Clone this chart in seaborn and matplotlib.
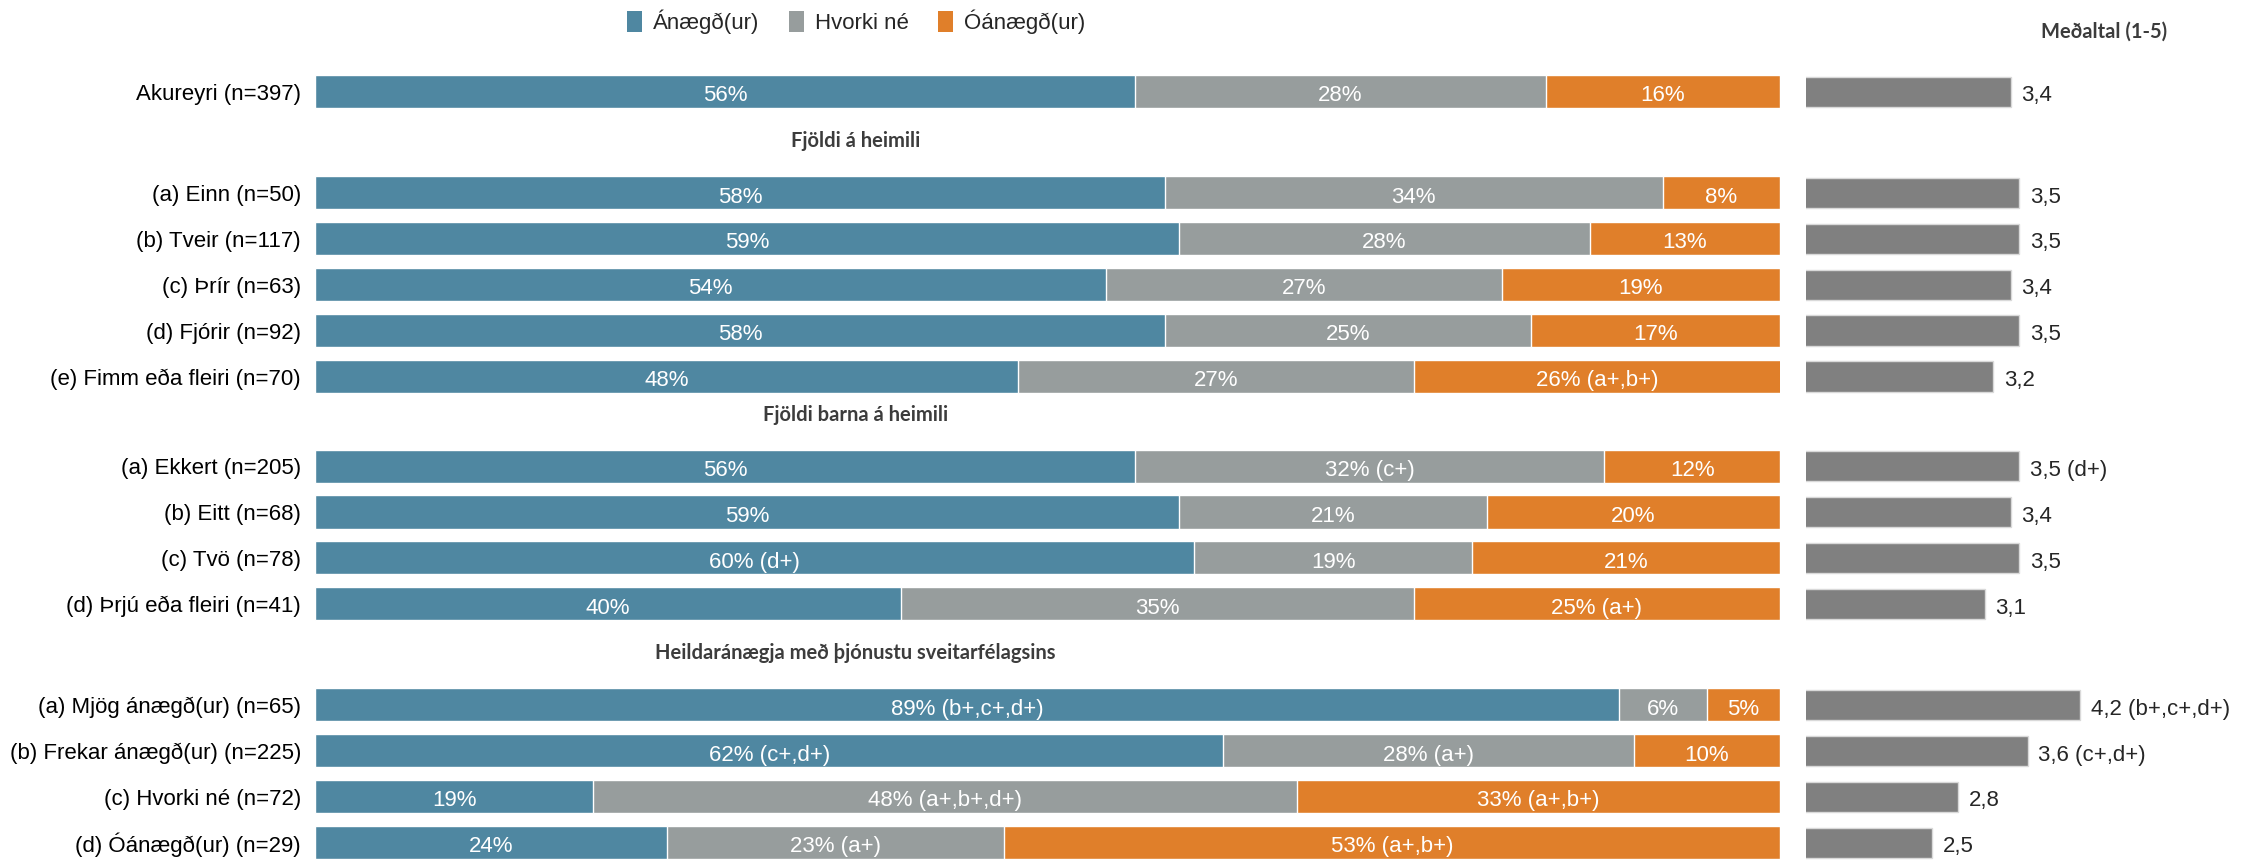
import numpy as np
import pandas as pd
import seaborn as sns
import matplotlib.pyplot as plt
from matplotlib.patches import Patch


labels = ['Akureyri (n=397)',
          '(a) Einn (n=50)', '(b) Tveir (n=117)', '(c) Þrír (n=63)', '(d) Fjórir (n=92)',
          '(e) Fimm eða fleiri (n=70)',
          '(a) Ekkert (n=205)', '(b) Eitt (n=68)', '(c) Tvö (n=78)', '(d) Þrjú eða fleiri (n=41)',
          '(a) Mjög ánægð(ur) (n=65)', '(b) Frekar ánægð(ur) (n=225)', '(c) Hvorki né (n=72)',
          '(d) Óánægð(ur) (n=29)']

anaegd = [56, 58, 59, 54, 58, 48, 56, 59, 60, 40, 89, 62, 19, 24]
hvorki = [28, 34, 28, 27, 25, 27, 32, 21, 19, 35, 6, 28, 48, 23]
oanaegd = [16, 8, 13, 19, 17, 26, 12, 20, 21, 25, 5, 10, 33, 53]

anaegd_notes = ['', '', '', '', '', '', '', '', ' (d+)', '', ' (b+,c+,d+)', ' (c+,d+)', '', '']
hvorki_notes = ['', '', '', '', '', '', ' (c+)', '', '', '', '', ' (a+)', ' (a+,b+,d+)', ' (a+)']
oanaegd_notes = ['', '', '', '', '', ' (a+,b+)', '', '', '', ' (a+)', '', '', ' (a+,b+)', ' (a+,b+)']

means = [3.4, 3.5, 3.5, 3.4, 3.5, 3.2, 3.5, 3.4, 3.5, 3.1, 4.2, 3.6, 2.8, 2.5]
mean_notes = ['', '', '', '', '', '', ' (d+)', '', '', '', ' (b+,c+,d+)', ' (c+,d+)', '', '']

section_sizes = [1, 5, 4, 4]
section_gaps = [2.2, 1.95, 2.2]
headers = ['Fjöldi á heimili', 'Fjöldi barna á heimili', 'Heildaránægja með þjónustu sveitarfélagsins']
legend_labels = ['Ánægð(ur)', 'Hvorki né', 'Óánægð(ur)']

BLUE = '#4F87A1'
GREY = '#979D9D'
ORANGE = '#E07F2A'
MEAN_GREY = '#808080'
HEAD = '#3C3C3C'

sns.set_style('white')
plt.rcParams['font.family'] = ['Liberation Sans', 'DejaVu Sans']

# row positions, with extra room before each section
ypos = []
starts = []
y = 0.0
for i, n in enumerate(section_sizes):
    if i > 0:
        y += section_gaps[i - 1] - 1
    starts.append(y)
    for j in range(n):
        ypos.append(y)
        y += 1

a = np.array(anaegd)
ah = a + np.array(hvorki)
tot = ah + np.array(oanaegd)
df = pd.DataFrame({'y': ypos, 'a': a, 'ah': ah, 'total': tot, 'mean': means})

W, H = 2254, 860
fig = plt.figure(figsize=(W / 100, H / 100), dpi=100)
ax = fig.add_axes([315 / W, 0, 1465 / W, 1])
ax2 = fig.add_axes([1806 / W, 0, 344 / W, 1])

# stacked bars: draw the cumulative totals on top of each other
for col, color in [('total', ORANGE), ('ah', GREY), ('a', BLUE)]:
    sns.barplot(data=df, x=col, y='y', orient='y', native_scale=True, color=color,
                saturation=1, width=0.72, errorbar=None, edgecolor='white',
                linewidth=1, ax=ax)

for i in range(len(labels)):
    segs = [(0, a[i], anaegd[i], anaegd_notes[i]),
            (a[i], ah[i], hvorki[i], hvorki_notes[i]),
            (ah[i], min(tot[i], 100), oanaegd[i], oanaegd_notes[i])]
    for lo, hi, v, note in segs:
        ax.annotate(f'{v}%{note}', ((lo + hi) / 2, ypos[i]), xytext=(0, -3),
                    textcoords='offset points', ha='center', va='center',
                    color='white', fontsize=16)

ylim = (16.727, -1.999)
ax.set_xlim(0, 100)
ax.set_ylim(*ylim)
ax.set_xticks([])
ax.set_yticks(ypos, labels=labels)
ax.tick_params(axis='y', length=0, pad=10, labelsize=16, labelcolor='black')
ax.set_xlabel('')
ax.set_ylabel('')
sns.despine(ax=ax, left=True, bottom=True)

for s, head in zip(starts[1:], headers):
    ax.text(36.9, s - 1.12, head, ha='center', va='center', fontsize=14.5,
            fontweight='bold', color=HEAD, family=['Lato', 'DejaVu Sans'])

# means panel
sns.barplot(data=df, x='mean', y='y', orient='y', native_scale=True, color=MEAN_GREY,
            saturation=1, width=0.66, errorbar=None, edgecolor='#d9d9d9',
            linewidth=1, ax=ax2)
mean_labels = [f'{m:.1f}'.replace('.', ',') + n for m, n in zip(means, mean_notes)]
for t in ax2.bar_label(ax2.containers[0], labels=mean_labels, padding=7.5, fontsize=16):
    t.xyann = (7.5, -3)
ax2.set_xlim(1.05, 5)
ax2.set_ylim(*ylim)
ax2.set_axis_off()

fig.text(2104 / W, 1 - 31.7 / H, 'Meðaltal (1-5)', ha='center', va='center', fontsize=14.5,
         fontweight='bold', color=HEAD, family=['Lato', 'DejaVu Sans'])

handles = [Patch(facecolor=c, edgecolor='none') for c in [BLUE, GREY, ORANGE]]
fig.legend(handles, legend_labels, loc='center', bbox_to_anchor=(856 / W, 1 - 21.7 / H),
           ncol=3, frameon=False, handlelength=0.68, handleheight=1.05,
           handletextpad=0.5, columnspacing=1.3, fontsize=16)

fig.savefig('out.png', dpi=100)
